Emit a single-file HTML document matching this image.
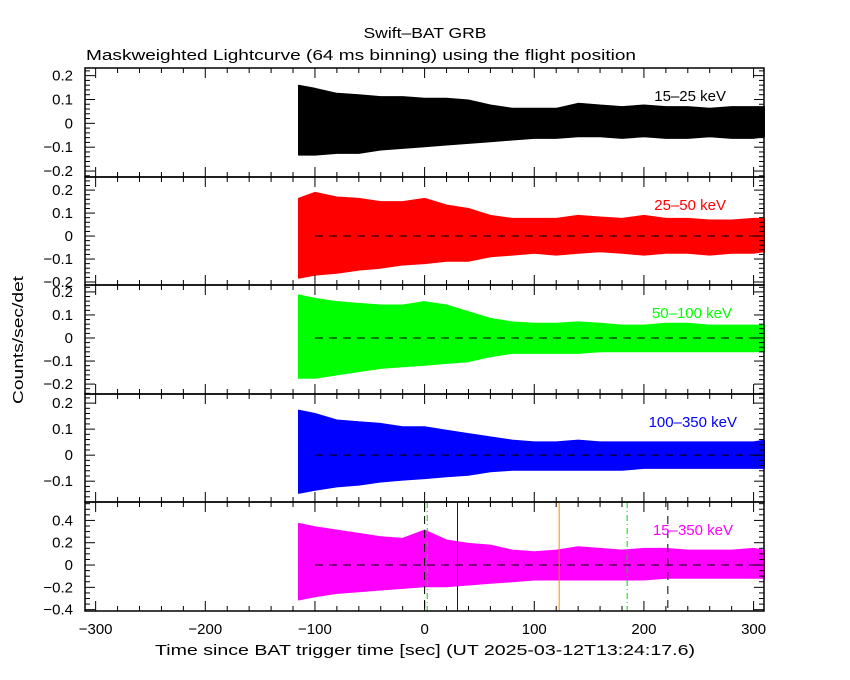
<!DOCTYPE html>
<html><head><meta charset="utf-8"><style>
html,body{margin:0;padding:0;background:#fff}
svg{display:block}
text{font-family:"Liberation Sans",sans-serif}
</style></head><body>
<svg id="chart" width="850" height="680" xmlns="http://www.w3.org/2000/svg">
<rect width="850" height="680" fill="#fff"/>
<text x="425" y="38" font-size="15" text-anchor="middle" textLength="123" lengthAdjust="spacingAndGlyphs">Swift–BAT GRB</text>
<text x="86" y="60" font-size="15" textLength="550" lengthAdjust="spacingAndGlyphs">Maskweighted Lightcurve (64 ms binning) using the flight position</text>
<text transform="translate(23,340) rotate(-90)" font-size="15" text-anchor="middle" textLength="128" lengthAdjust="spacingAndGlyphs">Counts/sec/det</text>
<text x="425" y="655" font-size="15" text-anchor="middle" textLength="540" lengthAdjust="spacingAndGlyphs">Time since BAT trigger time [sec] (UT 2025-03-12T13:24:17.6)</text>
<g id="panels"></g>
</svg>
<script>
// time bins (sec) of envelope samples
const times = [-115,-100,-80,-60,-40,-20,0,20,40,60,80,100,120,140,160,180,200,220,240,260,280,300,310];
const bands = ["15-25 keV","25-50 keV","50-100 keV","100-350 keV","15-350 keV"];
const upper1 = [0.16,0.147,0.126,0.12,0.112,0.112,0.105,0.105,0.098,0.077,0.063,0.063,0.063,0.084,0.077,0.07,0.077,0.07,0.07,0.063,0.07,0.07,0.07];
const lower1 = [-0.133,-0.133,-0.126,-0.126,-0.112,-0.105,-0.098,-0.091,-0.084,-0.077,-0.07,-0.063,-0.063,-0.056,-0.056,-0.063,-0.056,-0.063,-0.063,-0.056,-0.063,-0.063,-0.056];
const upper2 = [0.164,0.19,0.17,0.164,0.15,0.15,0.164,0.135,0.12,0.09,0.077,0.077,0.077,0.09,0.083,0.077,0.09,0.077,0.077,0.07,0.07,0.077,0.077];
const lower2 = [-0.184,-0.17,-0.162,-0.148,-0.14,-0.126,-0.12,-0.11,-0.11,-0.09,-0.083,-0.075,-0.083,-0.075,-0.068,-0.075,-0.083,-0.075,-0.075,-0.083,-0.075,-0.075,-0.068];
const upper3 = [0.187,0.172,0.158,0.15,0.143,0.143,0.158,0.143,0.114,0.085,0.07,0.064,0.064,0.07,0.064,0.056,0.056,0.064,0.064,0.056,0.056,0.056,0.056];
const lower3 = [-0.175,-0.175,-0.16,-0.146,-0.132,-0.125,-0.118,-0.11,-0.103,-0.081,-0.067,-0.067,-0.067,-0.067,-0.06,-0.06,-0.06,-0.06,-0.06,-0.06,-0.06,-0.06,-0.06];
const upper4 = [0.173,0.16,0.135,0.128,0.122,0.109,0.109,0.096,0.083,0.07,0.058,0.051,0.051,0.058,0.051,0.051,0.051,0.051,0.051,0.051,0.051,0.051,0.058];
const lower4 = [-0.147,-0.135,-0.122,-0.115,-0.103,-0.096,-0.09,-0.083,-0.077,-0.064,-0.058,-0.058,-0.058,-0.058,-0.058,-0.058,-0.051,-0.051,-0.051,-0.051,-0.051,-0.051,-0.051];
const upper5 = [0.373,0.343,0.313,0.284,0.254,0.239,0.313,0.224,0.194,0.179,0.134,0.119,0.134,0.164,0.149,0.134,0.149,0.149,0.134,0.134,0.134,0.149,0.134];
const lower5 = [-0.313,-0.284,-0.254,-0.239,-0.224,-0.209,-0.194,-0.194,-0.179,-0.164,-0.149,-0.134,-0.134,-0.134,-0.134,-0.134,-0.134,-0.119,-0.119,-0.119,-0.119,-0.119,-0.119];
const yMax = [0.232,0.257,0.23,0.235,0.565];
const yMin = [-0.225,-0.213,-0.243,-0.18,-0.412];
const yTickLabels = [[0.2,0.1,0,-0.1,-0.2],[0.2,0.1,0,-0.1,-0.2],[0.2,0.1,0,-0.1,-0.2],[0.2,0.1,0,-0.1],[0.4,0.2,0,-0.2,-0.4]];
const yMinorStep = [0.02,0.02,0.02,0.02,0.05];
const xTickLabels = [-300,-200,-100,0,100,200,300];
const markerTimes = [0,2.4,30,122.7,184.7,221.8];

const NS="http://www.w3.org/2000/svg";
const colors=["#000","#f00","#0f0","#00f","#f0f"];
const uppers=[upper1,upper2,upper3,upper4,upper5];
const lowers=[lower1,lower2,lower3,lower4,lower5];
const L=85,R=764,tMin=-309.7,tMax=309.5;
const tops=[68,177,285,394,502],bottoms=[177,285,394,502,611];
const xs=t=>L+(t-tMin)/(tMax-tMin)*(R-L);
const g=document.getElementById('panels');
function mk(tag,attrs,parent){const e=document.createElementNS(NS,tag);for(const k in attrs)e.setAttribute(k,attrs[k]);(parent||g).appendChild(e);return e;}
const fmt=v=>v===0?"0":(v<0?"−":"")+String(Math.abs(v)).replace(/^0\./,"0.");
for(let p=0;p<5;p++){
  const top=tops[p],bot=bottoms[p];
  const ys=v=>top+(yMax[p]-v)/(yMax[p]-yMin[p])*(bot-top);
  const pg=mk('g',{});
  
  
  // envelope
  let d="";
  times.forEach((t,i)=>{d+=(i?"L":"M")+xs(t).toFixed(1)+","+ys(Math.min(uppers[p][i],yMax[p])).toFixed(1);});
  for(let i=times.length-1;i>=0;i--){d+="L"+xs(times[i]).toFixed(1)+","+ys(Math.max(lowers[p][i],yMin[p])).toFixed(1);}
  const env=mk('path',{d:d+"Z",fill:colors[p],stroke:colors[p],"stroke-width":1,"stroke-linejoin":"bevel"},pg);
  
  
  if(p>0){
    const zl=mk('line',{x1:xs(-100),x2:R,y1:ys(0),y2:ys(0),stroke:"#000","stroke-dasharray":"8,6","stroke-width":1},pg);
    
    
  }
  if(p===4){
    const mc=["#000","#0d0","#00f","#f80","#0d0","#000"],md=["8,6","6,3,1,3","","","6,3,1,3","8,6"];
    markerTimes.forEach((t,i)=>{
      const ml=mk('line',{x1:xs(t),x2:xs(t),y1:top,y2:bot,stroke:mc[i],"stroke-width":1,"stroke-dasharray":md[i]},pg);
      
      
    });
  }
  const fr=mk('rect',{x:L,y:top,width:R-L,height:bot-top,fill:"none",stroke:"#000","stroke-width":1.5},pg);
  
  
  // x ticks
  for(let t=-300;t<=300;t+=20){
    const len=(t%100===0)?10:5,x=xs(t);
    mk('line',{x1:x,x2:x,y1:top,y2:top+len,stroke:"#000"},pg);
    mk('line',{x1:x,x2:x,y1:bot,y2:bot-len,stroke:"#000"},pg);
  }
  // y ticks
  const st=yMinorStep[p];
  for(let k=Math.ceil(yMin[p]/st);k*st<=yMax[p];k++){
    const v=k*st,y=ys(v);
    const major=yTickLabels[p].some(m=>Math.abs(m-v)<1e-6);
    const len=major?10:5;
    mk('line',{x1:L,x2:L+len,y1:y,y2:y,stroke:"#000"},pg);
    mk('line',{x1:R,x2:R-len,y1:y,y2:y,stroke:"#000"},pg);
  }
  yTickLabels[p].forEach(v=>{
    const tl=mk('text',{x:L-12,y:ys(v)+5,"font-size":15,"text-anchor":"end"},pg);
    tl.textContent=fmt(v);
    
    
  });
  const bl=mk('text',{x:[726,726,732,737,733][p],y:top+33,"font-size":15,"text-anchor":"end",fill:colors[p]},pg);
  bl.textContent=bands[p].replace('-','–');
  
  
}
xTickLabels.forEach(t=>{
  const tl=mk('text',{x:xs(t),y:634,"font-size":15,"text-anchor":"middle"});
  tl.textContent=fmt(t);
  
  
});
</script>
</body></html>
